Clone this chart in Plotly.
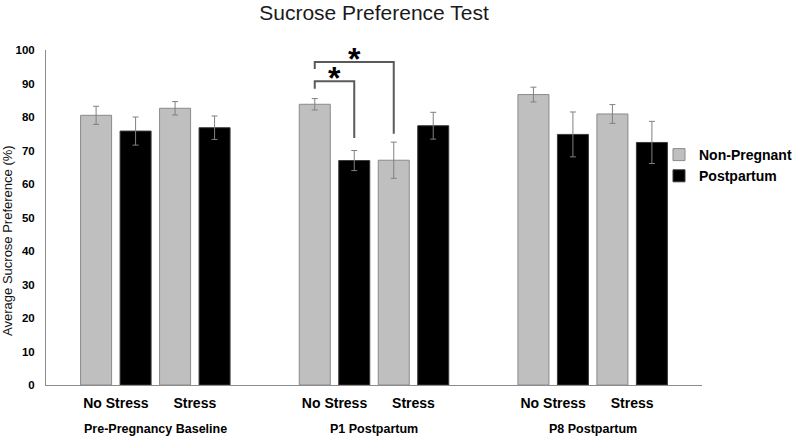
import plotly.graph_objects as go

# ---------------- data ----------------
timepoints = ["Pre-Pregnancy Baseline", "P1 Postpartum", "P8 Postpartum"]
conditions = ["No Stress", "Stress"]
series_names = ["Non-Pregnant", "Postpartum"]

# order: [PPB No Stress, PPB Stress, P1 No Stress, P1 Stress, P8 No Stress, P8 Stress]
nonpregnant_mean = [80.5, 82.6, 83.8, 67.1, 86.7, 80.9]
nonpregnant_err = [2.7, 2.0, 1.7, 5.4, 2.2, 2.8]
postpartum_mean = [75.8, 76.8, 67.0, 77.4, 74.8, 72.4]
postpartum_err = [4.2, 3.5, 3.0, 4.0, 6.7, 6.3]

y_ticks = [0, 10, 20, 30, 40, 50, 60, 70, 80, 90, 100]

# significance brackets: timepoint, (cond, series) left, (cond, series) right,
# bracket level, left drop end, right drop end
sig_brackets = [
    (1, (0, 0), (0, 1), 90.7, 88.4, 73.7),
    (1, (0, 0), (1, 0), 96.4, 94.3, 75.0),
]

# ---------------- layout helpers ----------------
STEP = 0.1806   # spacing between neighbouring bars (fraction of a timepoint slot)
BAR_W = 0.1418
W, H = 800, 437


def pos(g, c, s):
    return g + (2 * c + s - 1.5) * STEP


FONT = "Liberation Sans, Arial, sans-serif"
fills = ["#bfbfbf", "#000000"]
edges = ["#8a8a8a", "#3a3a3a"]
means = [nonpregnant_mean, postpartum_mean]
errs = [nonpregnant_err, postpartum_err]

fig = go.Figure()
for s, name in enumerate(series_names):
    xs = [pos(i // 2, i % 2, s) for i in range(len(means[s]))]
    fig.add_trace(go.Bar(
        x=xs, y=means[s], name=name, width=BAR_W,
        marker=dict(color=fills[s], line=dict(color=edges[s], width=1)),
        error_y=dict(type="data", array=errs[s], visible=True,
                     color="#808080", thickness=1, width=3),
        hoverinfo="y",
    ))

tickvals = [g + (c - 0.5) * 2 * STEP for g in range(len(timepoints)) for c in range(len(conditions))]
ticktext = [conditions[c] for g in range(len(timepoints)) for c in range(len(conditions))]

shapes = []
annotations = []
for g, (c1, s1), (c2, s2), lvl, d1, d2 in sig_brackets:
    x1, x2 = pos(g, c1, s1), pos(g, c2, s2)
    shapes.append(dict(
        type="path", xref="x", yref="y",
        path=f"M {x1},{d1} L {x1},{lvl} L {x2},{lvl} L {x2},{d2}",
        line=dict(color="#5a5a5a", width=2),
    ))
    annotations.append(dict(
        x=(x1 + x2) / 2, y=lvl, xref="x", yref="y", text="*", showarrow=False,
        font=dict(family=FONT, size=32, color="#000000", weight="bold"),
        yanchor="middle", xanchor="center", yshift=3,
    ))

for g, tp in enumerate(timepoints):
    annotations.append(dict(
        x=g, y=0, xref="x", yref="paper", yshift=-44, text=tp, showarrow=False,
        font=dict(family=FONT, size=12.5, color="#000000", weight="bold"),
        xanchor="center", yanchor="middle",
    ))

annotations.append(dict(
    x=-0.058, y=0.433, xref="paper", yref="paper", text="Average Sucrose Preference (%)",
    showarrow=False, textangle=-90,
    font=dict(family=FONT, size=13, color="#111111"),
    xanchor="center", yanchor="middle",
))

fig.update_layout(
    width=W, height=H,
    margin=dict(l=46, r=98, t=50, b=52, autoexpand=False),
    paper_bgcolor="white", plot_bgcolor="white",
    barmode="overlay",
    title=dict(text="Sucrose Preference Test", x=0.5, xref="paper", xanchor="center",
               y=1 - 12.5 / H, yref="container", yanchor="middle",
               font=dict(family=FONT, size=21, color="#1a1a1a")),
    xaxis=dict(range=[-0.5, 2.5], tickvals=tickvals, ticktext=ticktext,
               showline=True, linecolor="#8c8c8c", linewidth=1, ticks="",
               showgrid=False, zeroline=False, ticklabelstandoff=5, automargin=False,
               tickfont=dict(family=FONT, size=14, color="#000000", weight="bold")),
    yaxis=dict(range=[0, 100], tickvals=y_ticks,
               showline=True, linecolor="#8c8c8c", linewidth=1, ticks="",
               showgrid=False, zeroline=False, ticklabelstandoff=8, automargin=False,
               tickfont=dict(family=FONT, size=11.5, color="#000000", weight="bold")),
    legend=dict(x=659 / W, xref="container", xanchor="left",
                y=1 - 139 / H, yref="container", yanchor="top",
                bgcolor="rgba(0,0,0,0)", itemwidth=30,
                font=dict(family=FONT, size=14, color="#000000", weight="bold")),
    shapes=shapes,
    annotations=annotations,
    showlegend=True,
)

# remove the browser's default 8px body margin so the 800x437 figure fills the window
fig.write_html("out.html", config={"displayModeBar": False},
               post_script="document.body.style.margin='0px';")
